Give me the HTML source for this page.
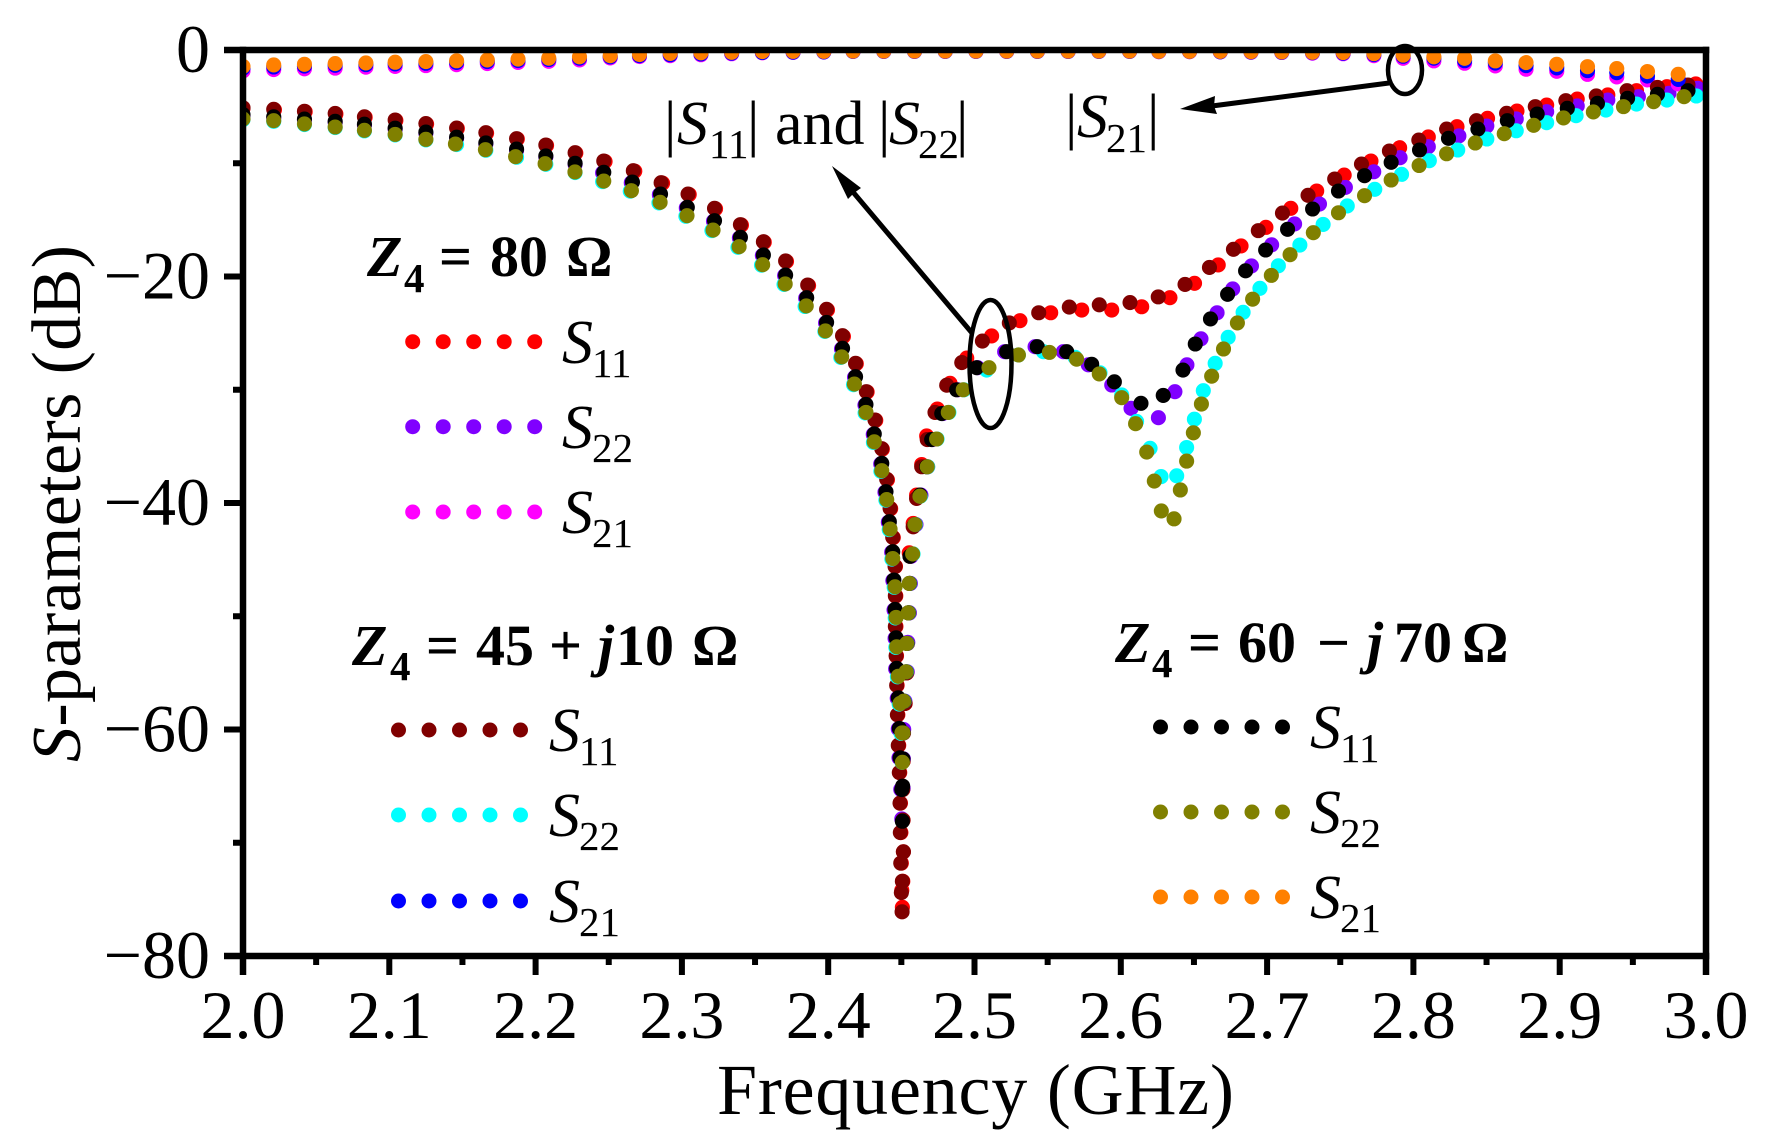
<!DOCTYPE html>
<html lang="en">
<head>
<meta charset="utf-8">
<title>S-parameters vs frequency</title>
<style>
html,body{margin:0;padding:0;background:#fff;}
svg{display:block;}
text{font-family:"Liberation Serif",serif;fill:#000;}
.tick{font-size:68px;}
.axis{font-size:72px;}
.it{font-style:italic;}
.lab{font-size:62px;}
.sub{font-size:41px;}
.ttl{font-size:58px;font-weight:bold;}
.ttlsub{font-size:41px;font-weight:bold;}
</style>
</head>
<body>
<svg id="chart" xmlns="http://www.w3.org/2000/svg" width="1779" height="1146" viewBox="0 0 1779 1146">
<rect width="1779" height="1146" fill="#fff"/>
<defs><clipPath id="plot-clip"><rect x="243" y="50" width="1463" height="906"/></clipPath></defs>
<g id="series" clip-path="url(#plot-clip)"></g>
<g id="frame"></g>
<g id="xt"></g>
<g id="yt"></g>
<text class="axis" x="717" y="1114" textLength="517" lengthAdjust="spacing">Frequency (GHz)</text>
<text class="axis" transform="translate(80,762) rotate(-90)" textLength="517" lengthAdjust="spacing" style="font-size:70px"><tspan class="it">S</tspan>-parameters (dB)</text>

<g>
<text class="ttl"><tspan class="it" x="367" y="276">Z</tspan><tspan class="ttlsub" x="404" y="292">4</tspan><tspan x="439" y="276">=</tspan><tspan x="490" y="276">80</tspan><tspan x="566" y="276">Ω</tspan></text>
<text class="lab"><tspan class="it" x="562" y="363">S</tspan><tspan class="sub" x="592" y="377">11</tspan></text>
<text class="lab"><tspan class="it" x="562" y="448">S</tspan><tspan class="sub" x="592" y="462">22</tspan></text>
<text class="lab"><tspan class="it" x="562" y="533">S</tspan><tspan class="sub" x="592" y="547">21</tspan></text>
</g>
<g>
<text class="ttl"><tspan class="it" x="352" y="665">Z</tspan><tspan class="ttlsub" x="390" y="680">4</tspan><tspan x="426" y="665">=</tspan><tspan x="476" y="665">45</tspan><tspan x="549" y="665">+</tspan><tspan class="it" x="598" y="665">j</tspan><tspan x="616" y="665">10</tspan><tspan x="692" y="665">Ω</tspan></text>
<text class="lab"><tspan class="it" x="549" y="751">S</tspan><tspan class="sub" x="579" y="765">11</tspan></text>
<text class="lab"><tspan class="it" x="549" y="836">S</tspan><tspan class="sub" x="579" y="850">22</tspan></text>
<text class="lab"><tspan class="it" x="549" y="922">S</tspan><tspan class="sub" x="579" y="936">21</tspan></text>
</g>
<g>
<text class="ttl"><tspan class="it" x="1115" y="662">Z</tspan><tspan class="ttlsub" x="1152" y="677">4</tspan><tspan x="1188" y="662">=</tspan><tspan x="1238" y="662">60</tspan><tspan x="1317" y="662">−</tspan><tspan class="it" x="1367" y="662">j</tspan><tspan x="1394" y="662">70</tspan><tspan x="1462" y="662">Ω</tspan></text>
<text class="lab"><tspan class="it" x="1310" y="748">S</tspan><tspan class="sub" x="1340" y="762">11</tspan></text>
<text class="lab"><tspan class="it" x="1310" y="833">S</tspan><tspan class="sub" x="1340" y="847">22</tspan></text>
<text class="lab"><tspan class="it" x="1310" y="918">S</tspan><tspan class="sub" x="1340" y="932">21</tspan></text>
</g>
<g id="legend-dots"></g>

<text class="lab"><tspan x="664" y="144">|</tspan><tspan class="it" x="677" y="144">S</tspan><tspan class="sub" x="709" y="158">11</tspan><tspan x="747" y="144">|</tspan><tspan x="775" y="144">and</tspan><tspan x="878" y="144">|</tspan><tspan class="it" x="889" y="144">S</tspan><tspan class="sub" x="918" y="158">22</tspan><tspan x="956" y="144">|</tspan></text>
<text class="lab"><tspan x="1065" y="137">|</tspan><tspan class="it" x="1077" y="137">S</tspan><tspan class="sub" x="1106" y="152">21</tspan><tspan x="1147" y="137">|</tspan></text>

<g>
<ellipse cx="990.5" cy="364" rx="21" ry="64" fill="none" stroke="#000" stroke-width="4.5"/>
<line x1="853" y1="192" x2="972" y2="333" stroke="#000" stroke-width="5"/>
<polygon points="832,166 861,188 854,193 848,199" fill="#000"/>
</g>
<g>
<ellipse cx="1405" cy="70" rx="17" ry="24" fill="none" stroke="#000" stroke-width="4.5"/>
<line x1="1212" y1="106" x2="1389" y2="83" stroke="#000" stroke-width="5"/>
<polygon points="1180,109 1215,96 1214,106 1217,114" fill="#000"/>
</g>
</svg>
<script>
// ---- axis ticks ----
const xTickLabels = ["2.0","2.1","2.2","2.3","2.4","2.5","2.6","2.7","2.8","2.9","3.0"];
const xMinorTicks = [2.05,2.15,2.25,2.35,2.45,2.55,2.65,2.75,2.85,2.95];
const yTickValues = [0,-20,-40,-60,-80];
const yTickLabels = ["0","−20","−40","−60","−80"];
const yMinorTicks = [-10,-30,-50,-70];

// ---- series values: each dot as [frequency GHz, dB] ----
const s11Z80 = [[2,-5.15],[2.0215,-5.28],[2.0425,-5.45],[2.0635,-5.65],[2.0835,-5.94],[2.1045,-6.22],[2.1255,-6.54],[2.1465,-6.93],[2.1665,-7.34],[2.1875,-7.86],[2.2075,-8.43],[2.2275,-9.1],[2.2475,-9.85],[2.2678,-10.7],[2.2868,-11.76],[2.305,-12.76],[2.323,-14.02],[2.3407,-15.46],[2.3563,-16.97],[2.3715,-18.67],[2.3866,-20.8],[2.3995,-22.95],[2.4104,-25.3],[2.4192,-27.7],[2.4266,-30.2],[2.4325,-32.7],[2.437,-35.25],[2.4405,-37.95],[2.4427,-40.5],[2.4445,-43.05],[2.446,-45.6],[2.4462,-48.2],[2.4463,-50.9],[2.4467,-53.5],[2.4471,-56.1],[2.4476,-58.7],[2.4482,-61.4],[2.4489,-63.8],[2.4494,-66.5],[2.4497,-69.1],[2.45,-71.8],[2.4503,-74.2],[2.4507,-75.7],[2.451,-73.4],[2.4514,-70.8],[2.4512,-68],[2.451,-65.3],[2.4512,-62.8],[2.4515,-60.3],[2.4526,-57.7],[2.4537,-55],[2.4542,-52.4],[2.4552,-49.7],[2.4558,-47.1],[2.4554,-44.4],[2.4581,-41.8],[2.4604,-39.3],[2.4639,-36.6],[2.4673,-34.08],[2.4746,-31.7],[2.4833,-29.43],[2.4947,-27.2],[2.5117,-25.25],[2.5311,-23.9],[2.5521,-23.2],[2.5733,-22.96],[2.5938,-22.96],[2.6143,-22.67],[2.6336,-21.87],[2.6504,-20.6],[2.6666,-18.98],[2.6822,-17.3],[2.6992,-15.66],[2.7162,-13.98],[2.7339,-12.45],[2.7527,-11.04],[2.771,-9.8],[2.7906,-8.63],[2.8102,-7.68],[2.8298,-6.77],[2.8507,-6.03],[2.8708,-5.39],[2.8911,-4.86],[2.912,-4.33],[2.9329,-3.97],[2.9525,-3.59],[2.9733,-3.24],[2.993,-3.0]];
const s22Z80 = [[2,-5.8],[2.021,-6],[2.042,-6.2],[2.063,-6.4],[2.083,-6.65],[2.104,-7],[2.125,-7.35],[2.146,-7.8],[2.166,-8.3],[2.187,-8.85],[2.207,-9.45],[2.227,-10.1],[2.2458,-10.85],[2.2654,-11.72],[2.2846,-12.78],[2.303,-13.95],[2.3216,-15.12],[2.3393,-16.6],[2.355,-18.15],[2.3702,-19.92],[2.3846,-21.92],[2.3982,-24.1],[2.4091,-26.4],[2.418,-28.9],[2.4251,-31.35],[2.4308,-33.95],[2.4359,-36.55],[2.4388,-39.05],[2.4411,-41.7],[2.4434,-44.35],[2.4442,-46.85],[2.445,-49.45],[2.4457,-51.95],[2.4461,-54.65],[2.4472,-57.25],[2.4479,-59.95],[2.4484,-62.5],[2.4496,-65.3],[2.4503,-67.9],[2.4512,-65.2],[2.4514,-62.6],[2.4516,-60],[2.4524,-57.5],[2.454,-54.9],[2.4544,-52.3],[2.4555,-49.7],[2.4562,-47.1],[2.4567,-44.7],[2.46,-41.9],[2.4634,-39.3],[2.468,-36.8],[2.4714,-34.4],[2.4783,-32.1],[2.4885,-30],[2.5022,-28.05],[2.5206,-26.64],[2.5414,-26.2],[2.5607,-26.64],[2.5778,-27.8],[2.5938,-29.58],[2.607,-31.64],[2.6257,-32.47],[2.637,-30.17],[2.6452,-27.8],[2.6548,-25.5],[2.6658,-23.2],[2.6765,-21.1],[2.6893,-19.07],[2.7031,-17.2],[2.7188,-15.36],[2.7358,-13.6],[2.7535,-12.13],[2.7729,-10.75],[2.7909,-9.51],[2.8102,-8.54],[2.8311,-7.59],[2.8502,-6.71],[2.8703,-6.09],[2.8911,-5.45],[2.912,-4.94],[2.9329,-4.42],[2.9538,-4.12],[2.9747,-3.82],[2.9943,-3.38]];
const s11Z45 = [[2,-5.1],[2.021,-5.24],[2.042,-5.41],[2.063,-5.6],[2.083,-5.9],[2.104,-6.18],[2.125,-6.5],[2.146,-6.89],[2.166,-7.3],[2.187,-7.83],[2.207,-8.39],[2.227,-9.07],[2.2466,-9.8],[2.2668,-10.66],[2.2858,-11.72],[2.3042,-12.72],[2.3223,-13.98],[2.34,-15.42],[2.3557,-16.93],[2.3709,-18.63],[2.386,-20.75],[2.3989,-22.9],[2.4098,-25.23],[2.4187,-27.67],[2.4261,-30.17],[2.432,-32.67],[2.4366,-35.2],[2.44,-37.9],[2.4423,-40.47],[2.4441,-43.03],[2.4457,-45.6],[2.4459,-48.2],[2.4459,-50.9],[2.4464,-53.5],[2.4468,-56.1],[2.4473,-58.7],[2.4479,-61.4],[2.4486,-63.8],[2.4491,-66.5],[2.4493,-69.1],[2.4496,-71.8],[2.45,-74.4],[2.4505,-76.1],[2.4507,-73.4],[2.4514,-70.8],[2.4511,-68],[2.4509,-65.3],[2.4511,-62.8],[2.4514,-60.3],[2.4525,-57.7],[2.4536,-55],[2.4541,-52.4],[2.4551,-49.7],[2.4557,-47.1],[2.4559,-44.7],[2.4581,-42.1],[2.4604,-39.6],[2.4639,-36.8],[2.4677,-34.4],[2.473,-32],[2.481,-29.6],[2.4913,-27.6],[2.5054,-25.7],[2.5238,-24.1],[2.5439,-23.2],[2.5648,-22.7],[2.5853,-22.5],[2.6063,-22.3],[2.6256,-21.8],[2.6439,-20.7],[2.6606,-19.2],[2.677,-17.6],[2.694,-15.95],[2.7105,-14.4],[2.728,-12.83],[2.7462,-11.39],[2.7645,-10.07],[2.7836,-8.92],[2.8037,-7.95],[2.8227,-6.98],[2.8431,-6.24],[2.8637,-5.59],[2.8833,-5.0],[2.9042,-4.47],[2.925,-4.06],[2.946,-3.59],[2.9668,-3.3],[2.9877,-3.09]];
const s22Z45 = [[2,-6.15],[2.021,-6.3],[2.042,-6.58],[2.063,-6.85],[2.083,-7.14],[2.104,-7.5],[2.125,-7.94],[2.146,-8.35],[2.166,-8.85],[2.187,-9.47],[2.207,-10.09],[2.227,-10.82],[2.2458,-11.62],[2.2647,-12.47],[2.2843,-13.5],[2.3027,-14.68],[2.3205,-15.95],[2.3383,-17.42],[2.3544,-19],[2.3698,-20.7],[2.3842,-22.65],[2.3977,-24.85],[2.4086,-27.15],[2.4173,-29.55],[2.4252,-32.05],[2.4309,-34.65],[2.436,-37.2],[2.4394,-39.75],[2.4417,-42.35],[2.4435,-44.95],[2.4451,-47.45],[2.4458,-50.15],[2.4462,-52.75],[2.4473,-55.35],[2.4485,-57.75],[2.4498,-60.35],[2.4505,-62.9],[2.4512,-60.3],[2.4519,-57.5],[2.4535,-54.9],[2.4539,-52.4],[2.455,-49.7],[2.4557,-47.1],[2.458,-44.5],[2.4596,-41.9],[2.463,-39.4],[2.468,-36.8],[2.4744,-34.35],[2.4825,-32],[2.4928,-30],[2.5083,-28.26],[2.53,-26.93],[2.5471,-26.64],[2.5687,-27.13],[2.5858,-28.5],[2.6006,-30.46],[2.6108,-32.8],[2.62,-35.17],[2.6275,-37.67],[2.6382,-37.6],[2.645,-35.1],[2.6503,-32.6],[2.6564,-30.08],[2.6645,-27.67],[2.6734,-25.37],[2.6836,-23.16],[2.6951,-21.04],[2.7077,-19.05],[2.7224,-17.22],[2.7383,-15.4],[2.7548,-13.77],[2.7736,-12.3],[2.7919,-10.98],[2.8109,-9.77],[2.8303,-8.83],[2.8502,-7.86],[2.8703,-7.13],[2.8911,-6.42],[2.9112,-5.8],[2.9316,-5.3],[2.9525,-4.77],[2.9733,-4.42],[2.9934,-4.06]];
const s11Z60 = [[2,-5.7],[2.021,-5.9],[2.042,-6.1],[2.063,-6.3],[2.083,-6.55],[2.104,-6.9],[2.125,-7.25],[2.146,-7.7],[2.166,-8.2],[2.187,-8.75],[2.207,-9.35],[2.227,-10],[2.2466,-10.8],[2.2662,-11.66],[2.2854,-12.72],[2.3037,-13.89],[2.3223,-15.07],[2.34,-16.54],[2.3557,-18.1],[2.3709,-19.87],[2.3853,-21.87],[2.3989,-24.05],[2.4098,-26.34],[2.4187,-28.85],[2.4258,-31.3],[2.4315,-33.9],[2.4366,-36.5],[2.4395,-39],[2.4418,-41.65],[2.4441,-44.3],[2.4449,-46.8],[2.4457,-49.4],[2.4464,-51.9],[2.4468,-54.6],[2.4479,-57.2],[2.4486,-59.9],[2.4491,-62.5],[2.4503,-65.3],[2.4507,-68.1],[2.4509,-65],[2.4511,-62.6],[2.4512,-60.3],[2.4517,-57.5],[2.4533,-54.9],[2.4537,-52.4],[2.4548,-49.7],[2.4555,-47.1],[2.4559,-44.7],[2.4593,-41.9],[2.4627,-39.3],[2.4673,-36.8],[2.4707,-34.4],[2.4776,-32.1],[2.4878,-30],[2.5015,-28.05],[2.522,-26.64],[2.5429,-26.2],[2.563,-26.64],[2.5801,-27.75],[2.5956,-29.3],[2.6138,-31.2],[2.629,-30.5],[2.6425,-28.26],[2.6509,-25.96],[2.6613,-23.75],[2.673,-21.57],[2.6853,-19.5],[2.699,-17.66],[2.714,-15.83],[2.7311,-14.04],[2.7488,-12.45],[2.7666,-11.1],[2.7848,-9.92],[2.8042,-8.83],[2.824,-7.8],[2.8441,-6.98],[2.8642,-6.24],[2.8846,-5.65],[2.9052,-5.15],[2.9258,-4.71],[2.9464,-4.26],[2.9668,-3.91],[2.9877,-3.59]];
const s22Z60 = [[2,-6.09],[2.021,-6.24],[2.042,-6.53],[2.063,-6.8],[2.083,-7.09],[2.104,-7.45],[2.125,-7.89],[2.1452,-8.3],[2.1657,-8.8],[2.1863,-9.42],[2.2065,-10.04],[2.2269,-10.77],[2.2466,-11.57],[2.2655,-12.42],[2.2851,-13.45],[2.3035,-14.63],[2.3213,-15.9],[2.3391,-17.37],[2.3552,-18.96],[2.3706,-20.66],[2.385,-22.6],[2.3981,-24.81],[2.4092,-27.1],[2.4179,-29.5],[2.4258,-32],[2.4315,-34.6],[2.4366,-37.15],[2.44,-39.7],[2.4423,-42.3],[2.4441,-44.9],[2.4457,-47.4],[2.4464,-50.1],[2.4468,-52.7],[2.4479,-55.3],[2.4491,-57.7],[2.4504,-60.3],[2.4507,-62.9],[2.4511,-60.3],[2.4516,-57.5],[2.4532,-54.9],[2.4536,-52.4],[2.4547,-49.7],[2.4554,-47.1],[2.4577,-44.5],[2.4593,-41.9],[2.4627,-39.4],[2.4677,-36.8],[2.4741,-34.35],[2.4821,-32],[2.4923,-30],[2.5099,-28.05],[2.53,-26.93],[2.5512,-26.7],[2.5698,-27.3],[2.5853,-28.6],[2.6006,-30.7],[2.6101,-33],[2.6177,-35.5],[2.6229,-38.06],[2.6277,-40.7],[2.6364,-41.4],[2.6407,-38.85],[2.645,-36.3],[2.6496,-33.8],[2.6551,-31.26],[2.6621,-28.8],[2.6702,-26.4],[2.6797,-24.1],[2.6901,-22],[2.7029,-19.9],[2.7157,-18.07],[2.7316,-16.13],[2.7488,-14.37],[2.7666,-12.86],[2.7848,-11.48],[2.8039,-10.2],[2.8227,-9.16],[2.8423,-8.21],[2.8621,-7.39],[2.8822,-6.65],[2.9026,-6],[2.923,-5.47],[2.9436,-5],[2.9642,-4.56],[2.985,-4.12]];

// S21 dots share frequencies
const s21Freq = [2,2.021,2.042,2.063,2.084,2.104,2.125,2.146,2.167,2.188,2.209,2.23,2.251,2.271,2.292,2.313,2.334,2.355,2.376,2.397,2.417,2.438,2.459,2.48,2.501,2.522,2.543,2.564,2.585,2.606,2.626,2.647,2.668,2.689,2.71,2.731,2.752,2.773,2.793,2.814,2.835,2.856,2.877,2.898,2.919,2.939,2.96,2.981];
const s21Z80Db = [-1.85,-1.73,-1.66,-1.6,-1.52,-1.45,-1.38,-1.3,-1.2,-1.1,-1,-0.88,-0.7,-0.58,-0.5,-0.42,-0.33,-0.25,-0.21,-0.18,-0.13,-0.13,-0.13,-0.13,-0.13,-0.13,-0.13,-0.13,-0.13,-0.13,-0.15,-0.15,-0.17,-0.2,-0.22,-0.28,-0.33,-0.5,-0.73,-0.96,-1.17,-1.41,-1.7,-1.88,-2.15,-2.38,-2.64,-3];
const s21Z45Db = [-1.6,-1.5,-1.42,-1.35,-1.29,-1.23,-1.17,-1.1,-1.02,-0.93,-0.84,-0.72,-0.6,-0.5,-0.42,-0.35,-0.28,-0.22,-0.19,-0.17,-0.12,-0.12,-0.12,-0.12,-0.12,-0.12,-0.12,-0.12,-0.12,-0.12,-0.14,-0.14,-0.16,-0.18,-0.2,-0.24,-0.28,-0.4,-0.55,-0.72,-0.95,-1.15,-1.38,-1.58,-1.82,-2,-2.3,-2.6];
const s21Z60Db = [-1.45,-1.32,-1.26,-1.2,-1.14,-1.08,-1.02,-0.95,-0.88,-0.8,-0.72,-0.6,-0.5,-0.4,-0.3,-0.25,-0.2,-0.14,-0.12,-0.12,-0.1,-0.1,-0.1,-0.1,-0.1,-0.1,-0.1,-0.1,-0.1,-0.1,-0.12,-0.12,-0.13,-0.15,-0.17,-0.2,-0.22,-0.32,-0.45,-0.6,-0.73,-0.96,-1.11,-1.26,-1.47,-1.64,-1.9,-2.15];

function zipS21(dbs){ return s21Freq.map(function(f, i){ return [f, dbs[i]]; }); }

const seriesList = [
  {name:'series-s11-z80',      color:'#ff0000', values:s11Z80},
  {name:'series-s22-z80',      color:'#8000ff', values:s22Z80},
  {name:'series-s21-z80',      color:'#ff00ff', values:zipS21(s21Z80Db)},
  {name:'series-s11-z45-j10',  color:'#800000', values:s11Z45},
  {name:'series-s22-z45-j10',  color:'#00ffff', values:s22Z45},
  {name:'series-s21-z45-j10',  color:'#0000ff', values:zipS21(s21Z45Db)},
  {name:'series-s11-z60-j70',  color:'#000000', values:s11Z60},
  {name:'series-s22-z60-j70',  color:'#808000', values:s22Z60},
  {name:'series-s21-z60-j70',  color:'#ff8000', values:zipS21(s21Z60Db)}
];

const NS = 'http://www.w3.org/2000/svg';
const X0 = 243, X1 = 1706, Y0 = 50, Y1 = 956;
function xScale(f){ return X0 + (f - 2) * (X1 - X0); }
function yScale(db){ return Y0 + (-db / 80) * (Y1 - Y0); }
function make(tag, parent, attrs){
  const el = document.createElementNS(NS, tag);
  for (const k in attrs) el.setAttribute(k, attrs[k]);
  parent.appendChild(el);
  return el;
}

// series dots
const seriesLayer = document.getElementById('series');
seriesList.forEach(function(s){
  const g = make('g', seriesLayer, {fill:s.color});
  
  
  s.values.forEach(function(p){
    const c = make('circle', g, {cx:xScale(p[0]).toFixed(2), cy:yScale(p[1]).toFixed(2), r:7.55});
    
    
  });
});

// frame
const frame = document.getElementById('frame');
const SW = 6.5;
const topSpine = make('rect', frame, {x:224, y:Y0-SW/2, width:X1-224+SW/2, height:SW, fill:'#000'});


const bottomSpine = make('rect', frame, {x:224, y:Y1-SW/2, width:X1-224+SW/2, height:SW, fill:'#000'});


const leftSpine = make('rect', frame, {x:X0-SW/2, y:Y0-SW/2, width:SW, height:975-Y0+SW/2, fill:'#000'});


const rightSpine = make('rect', frame, {x:X1-SW/2, y:Y0-SW/2, width:SW, height:975-Y0+SW/2, fill:'#000'});



// x ticks
const xt = document.getElementById('xt');
xTickLabels.forEach(function(lbl){
  const f = parseFloat(lbl), x = xScale(f);
  const t = make('rect', xt, {x:x-3, y:Y1, width:6, height:975-Y1, fill:'#000'});
  
  
  const txt = make('text', xt, {x:x, y:1038, 'text-anchor':'middle', 'class':'tick'});
  txt.textContent = lbl;
  
  
});
xMinorTicks.forEach(function(f){
  const t = make('rect', xt, {x:xScale(f)-3, y:Y1, width:6, height:9, fill:'#000'});
  
  
});

// y ticks
const yt = document.getElementById('yt');
yTickValues.forEach(function(v, i){
  const y = yScale(v);
  const t = make('rect', yt, {x:224, y:y-3, width:X0-224, height:6, fill:'#000'});
  
  
  const txt = make('text', yt, {x:210, y:y+22, 'text-anchor':'end', 'class':'tick'});
  txt.textContent = yTickLabels[i];
  
  
});
yMinorTicks.forEach(function(v){
  const t = make('rect', yt, {x:233, y:yScale(v)-3, width:X0-233, height:6, fill:'#000'});
  
  
});

// legend sample dots
const legendRows = [
  {left:412.7, y:341.7, color:'#ff0000'},
  {left:412.7, y:426.7, color:'#8000ff'},
  {left:412.7, y:512,   color:'#ff00ff'},
  {left:398.5, y:730,   color:'#800000'},
  {left:398.5, y:815,   color:'#00ffff'},
  {left:398.5, y:901,   color:'#0000ff'},
  {left:1160.5,y:727,   color:'#000000'},
  {left:1160.5,y:812,   color:'#808000'},
  {left:1160.5,y:897,   color:'#ff8000'}
];
const legendDots = document.getElementById('legend-dots');
legendRows.forEach(function(r){
  for (let i = 0; i < 5; i++){
    const c = make('circle', legendDots, {cx:r.left + i * 30.5, cy:r.y, r:7.5, fill:r.color});
    
    
  }
});
</script>
</body>
</html>
